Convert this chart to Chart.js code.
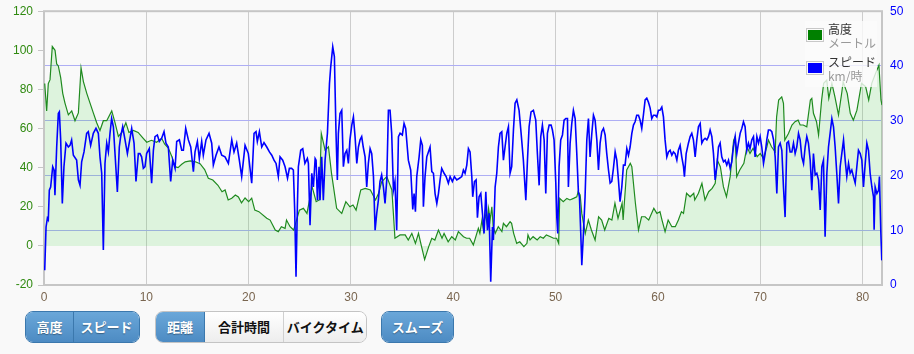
<!DOCTYPE html>
<html>
<head>
<meta charset="utf-8">
<script src="https://cdn.jsdelivr.net/npm/chart.js@4"></script>
<style>
  html, body { margin: 0; padding: 0; background: #f9f9f9; width: 914px; height: 354px; overflow: hidden; }
  #wrap { position: absolute; left: 0; top: -4px; width: 914px; height: 314px; }
  .legend { position: absolute; left: 805px; top: 21px; width: 72px; height: 66px; background: rgba(251,251,251,0.8); font-family: "Noto Sans CJK JP", sans-serif; font-size: 12px; }
  .sw { position: absolute; left: 1px; width: 14px; height: 10px; border: 1px solid #c8c8c8; padding: 1px; background-clip: content-box; }
  .lt { position: absolute; left: 23px; white-space: nowrap; line-height: 13px; }
  .grp { position: absolute; top: 311px; height: 30px; display: flex; border-radius: 8px; overflow: hidden; border: 1px solid #3b78ad; font-family: "Noto Sans CJK JP", sans-serif; font-weight: bold; font-size: 13px; }
  .grp.light { border-color: #c4c4c4; }
  .btn { line-height: 30px; text-align: center; color: #fff; background: linear-gradient(#6aa7d9, #4d8bc3); text-shadow: 0 1px 1px rgba(0,0,0,0.35); }
  .btn + .btn { border-left: 1px solid #3b78ad; }
  .btn.off { color: #111; background: linear-gradient(#ffffff, #ededed); text-shadow: none; border-left: 1px solid #d0d0d0; }
</style>
</head>
<body>
<div id="wrap"><canvas id="chart" width="914" height="314"></canvas></div>

<div class="legend">
  <div class="sw" style="top:7px; background-color:#008000;"></div>
  <div class="lt" style="top:1px; color:#333;">高度</div>
  <div class="lt" style="top:15px; color:#999;">メートル</div>
  <div class="sw" style="top:40px; background-color:#0000ff;"></div>
  <div class="lt" style="top:34px; color:#333;">スピード</div>
  <div class="lt" style="top:48px; color:#999;">km/時</div>
</div>

<div class="grp" style="left:25px; width:113px;">
  <div class="btn" style="width:47px;">高度</div>
  <div class="btn" style="width:65px;">スピード</div>
</div>
<div class="grp light" style="left:155px; width:210px;">
  <div class="btn" style="width:48px; border-right:1px solid #3b78ad;">距離</div>
  <div class="btn off" style="width:79px; border-left:none;">合計時間</div>
  <div class="btn off" style="width:82px;">バイクタイム</div>
</div>
<div class="grp" style="left:381px; width:71px;">
  <div class="btn" style="width:71px;">スムーズ</div>
</div>

<script>
// distance (km) and altitude (m)
const altDist = [0.07,0.26,0.42,0.59,0.81,1.08,1.24,1.4,1.63,1.83,2.05,2.38,2.71,3.03,3.36,3.62,3.85,4.18,4.5,4.82,5.15,5.47,5.8,6.13,6.62,6.94,7.27,7.6,8.0,8.3,8.73,9.2,9.7,10.04,10.5,11.0,11.5,11.8,12.15,12.5,12.8,13.1,13.46,13.8,14.3,14.8,15.25,15.7,16.06,16.5,17.0,17.4,17.7,18.0,18.35,18.7,19.0,19.3,19.65,20.0,20.3,20.6,21.0,
  21.77,22.1,22.6,22.9,23.2,23.56,23.7,24.05,24.4,24.96,25.35,25.7,26.2,26.6,26.9,27.1,27.47,27.8,28.1,28.6,29.1,29.5,29.9,30.2,30.5,30.96,31.4,31.9,32.4,32.7,33.0,33.5,34.0,34.3,34.8,35.3,35.6,35.95,36.3,36.6,36.9,37.2,37.6,37.9,38.2,38.55,38.9,39.1,39.5,39.85,40.2,40.5,
  40.67,41.0,41.3,41.6,41.96,42.3,42.45,42.6,42.8,42.95,43.1,43.3,43.45,43.6,43.77,43.9,44.1,44.4,44.75,44.9,45.2,45.55,45.7,45.9,46.2,46.5,46.9,47.2,47.3,47.5,47.8,48.2,48.5,48.8,49.1,49.5,49.8,50.1,50.3,50.4,50.75,51.1,51.4,51.75,52.07,52.2,52.4,52.56,52.9,53.2,53.5,53.86,54.2,54.5,54.8,55.2,55.5,55.8,56.1,56.5,56.6,56.95,57.3,57.45,57.8,58.1,58.4,58.75,59.1,59.6,59.9,
  60.2,60.4,60.7,61.0,61.36,61.7,62.0,62.3,62.5,62.8,63.15,63.5,63.6,63.96,64.3,64.6,64.96,65.3,65.6,65.8,66.1,66.4,66.7,67.06,67.4,67.55,67.7,68.0,68.4,68.7,69.0,69.3,69.7,70.0,70.3,70.65,70.8,71.1,71.46,71.6,71.8,72.1,72.27,72.4,72.76,73.1,73.4,73.7,73.9,74.2,74.55,74.9,75.04,75.2,75.5,75.7,76.0,76.2,76.5,76.7,77.0,77.3,77.65,77.98,78.1,78.5,78.8,79.1,79.45,79.9,80.3,80.6,80.9,81.27,81.6,81.8,81.9];
const altitude = [83,69,83,85,102,100,93,92,86,78,73,67,69,64,68,91,84,78,73,68,63,59,64,64,69,63,56,58,63,58,59,58,55,53,54,53,55,52,50,45.6,40.5,40,41.7,43,43.5,43,42,39,34.6,33.7,31,27.7,28.6,23.5,24.4,26,25,22,24.5,22.6,24.4,18.3,17.5,
  14.1,13.2,8.1,7.3,9.8,9.0,13.2,9.8,8.1,18.3,19.2,16.6,30.3,22.6,23.5,57.5,49,50.7,37.1,19.2,16.6,22.6,20,20.9,18.3,28.6,29.4,28.6,23.5,26.9,32.8,35.4,28.6,3.9,5.6,5.6,3,6.4,1.3,6.4,-0.4,-7,-0.4,3.9,3,8.1,3.9,6.4,2.1,4.7,3,7.3,
  6.4,4.7,3.9,3.9,0.5,6.4,9,6.4,13.2,8.1,16.6,11.5,19.2,13.2,20,9.8,6.4,9.8,7.3,11.5,9.8,12.4,11.5,6.4,1.3,2.1,-0.4,1.3,5.6,3,4.7,3,4.7,3.9,5.6,4.7,3.9,3.9,1.3,24.3,22.6,24.3,23.5,24.3,25.1,27.7,26,16.6,6.4,13.2,8.1,3,14.9,13.2,8.1,14.1,13.2,21.8,14.1,21.8,13.2,38.8,42.2,40.5,21.8,8.1,14.9,14.9,13.2,19.2,16.6,
  17.5,13.2,7.3,13.2,9.8,9.8,13.2,17.5,16.6,26.9,25.1,26.9,23.5,26.9,32,23.5,27.7,29.4,32,43.9,40.5,30.3,25.1,35.4,54.1,55.8,35.4,38.8,42.2,50.7,47.3,49.9,45.6,47.3,44.8,50.7,54.1,50.7,48.1,66,74.6,76.2,72.9,54.1,57.5,61.8,63.5,64.3,61.8,61.8,60.9,74.6,75.4,67.8,63.5,56.7,74.6,83.1,84.8,75.4,83.1,76.2,66.9,78.8,83.9,78,67.8,64.3,69.4,83.1,81.4,74.6,83.1,88.2,92.4,74.6,72];

// distance (km) and speed (km/h)
const speedDist = [0.07,0.2,0.33,0.42,0.52,0.65,0.85,0.98,1.07,1.24,1.4,1.5,1.63,1.79,1.95,2.15,2.38,2.54,2.7,2.87,3.19,3.36,3.52,3.68,3.91,4.17,4.33,4.56,4.82,5.08,5.31,5.47,5.64,5.8,5.96,6.13,6.29,6.45,6.61,6.78,6.94,7.17,7.36,7.49,7.69,7.92,8.15,8.41,8.57,8.8,8.99,9.22,9.38,9.54,9.71,9.87,10.03,10.29,10.52,10.69,10.85,11.08,11.27,11.5,11.73,11.92,12.15,12.38,12.58,12.81,12.97,13.23,13.46,13.62,13.85,14.11,14.34,14.6,14.76,14.99,15.18,15.41,15.57,15.83,16.13,16.39,16.55,16.81,17.1,17.37,17.69,18.02,18.35,18.57,18.83,19.09,19.32,19.65,19.97,20.3,20.53,20.72,20.85,21.05,
  21.28,21.5,21.77,22.03,22.26,22.48,22.68,22.9,23.07,23.33,23.56,23.8,23.98,24.2,24.37,24.5,24.63,24.76,24.86,25.09,25.29,25.5,25.74,25.84,26.0,26.17,26.33,26.5,26.59,26.72,26.88,26.98,27.14,27.3,27.47,27.7,27.9,28.02,28.22,28.38,28.54,28.67,28.77,28.93,29.1,29.26,29.42,29.59,29.75,29.9,30.08,30.24,30.4,30.57,30.73,30.89,31.05,31.2,31.38,31.54,31.7,31.87,32.03,32.2,32.36,32.52,32.68,32.84,33.0,33.17,33.33,33.5,33.66,33.82,33.98,34.15,34.3,34.47,34.64,34.8,35.02,35.19,35.35,35.61,35.84,36.04,36.17,36.3,36.43,36.66,36.82,36.98,37.08,37.24,37.41,37.57,37.73,37.9,38.06,38.22,38.39,38.55,38.71,38.87,39.1,39.3,39.52,39.69,39.91,40.11,40.34,40.6,
  40.83,40.99,41.15,41.32,41.48,41.64,41.81,41.9,42.07,42.23,42.36,42.52,42.69,42.85,43.01,43.18,43.34,43.5,43.66,43.83,43.92,44.09,44.25,44.41,44.57,44.74,44.9,45.06,45.23,45.39,45.55,45.71,45.88,46.04,46.21,46.43,46.63,46.85,47.09,47.25,47.41,47.6,47.83,48.06,48.22,48.39,48.55,48.71,48.88,49.04,49.2,49.37,49.56,49.69,49.85,50.02,50.12,50.21,50.34,50.5,50.67,50.83,51.0,51.16,51.25,51.42,51.58,51.74,51.91,52.07,52.23,52.33,52.46,52.56,52.72,52.88,53.05,53.21,53.37,53.54,53.7,53.86,54.03,54.19,54.35,54.51,54.68,54.84,55.0,55.17,55.33,55.49,55.65,55.82,55.98,56.14,56.3,56.47,56.63,56.79,56.96,57.12,57.28,57.45,57.61,57.77,57.93,58.1,58.26,58.42,58.58,58.75,58.91,59.07,59.24,59.4,59.56,59.73,59.89,60.05,
  60.2,60.38,60.54,60.7,60.87,61.03,61.19,61.36,61.52,61.68,61.85,62.0,62.17,62.33,62.5,62.59,62.76,62.98,63.15,63.31,63.47,63.64,63.8,63.96,64.13,64.29,64.45,64.61,64.78,64.94,65.1,65.27,65.43,65.59,65.76,65.92,66.08,66.24,66.41,66.57,66.73,66.9,67.06,67.22,67.38,67.55,67.71,67.87,68.04,68.2,68.36,68.52,68.69,68.85,69.0,69.18,69.34,69.5,69.67,69.83,69.99,70.15,70.32,70.48,70.64,70.8,70.97,71.13,71.3,71.46,71.62,71.78,71.95,72.11,72.27,72.43,72.6,72.76,72.92,73.09,73.25,73.41,73.57,73.74,73.9,74.06,74.23,74.39,74.55,74.71,74.88,75.04,75.2,75.37,75.53,75.69,75.86,76.02,76.18,76.34,76.51,76.67,76.83,77.0,77.16,77.32,77.48,77.65,77.81,77.97,78.14,78.3,78.46,78.63,78.79,78.95,79.11,79.28,79.44,79.6,79.77,79.93,80.09,80.26,80.42,80.58,80.74,80.91,81.07,81.13,81.23,81.4,81.56,81.65,81.79,81.88];
const speed = [2.7,10.6,12.2,11.9,17.3,17.9,21.6,21.0,16.4,25.2,31.3,31.6,26.5,14.9,21.6,25.9,25.2,25.5,26.5,23.7,22.8,19.2,18.2,22.5,24.3,27.7,28,25.5,27.7,28.6,27.7,23.4,20.4,6.4,22.2,25.9,24.3,27.7,30.4,28.9,24,17,25.2,27.1,28.9,26.5,24,26.8,28.6,25.9,18.9,24,24,23.4,21.3,21.6,24,24.9,18.6,24.6,27.1,27.4,26.2,26.8,28,25.9,25.2,18.9,22.8,21.3,26.2,26.5,24.6,24.6,28.6,26.5,25.2,20.7,24.3,26.2,23.1,26.2,23.7,26.5,27.7,25.9,21.9,23.7,25.2,23.7,23.4,22.2,26.5,24.3,25.9,22.8,19.8,25.5,24,18.6,27.7,28,26.2,28,
  25.2,26,25.2,24.3,23.7,22.8,22.2,19.8,23.4,22.8,21.6,19.5,21.3,21.3,21.0,13.8,1.5,14.1,21.6,24.6,24.9,22.2,23.1,22.2,10.9,20.4,17.9,23.1,22.8,15.5,21.6,15.5,23.4,15.5,22.8,27.7,36.8,39.8,43.5,41.7,27.7,19.2,27.7,31.3,31.9,21.6,24,24.6,22.2,26.5,29.2,30.7,27.1,22.2,25.2,26.5,27.1,25.2,23.4,17.9,22.2,24.9,24,19.8,10,13.1,15.5,18.9,20.1,17.9,14.9,19.2,31.9,31.9,27.7,17.3,18.9,10,27.1,27.7,27.4,29.5,28.6,22.8,21,13.8,16.7,13.4,19.8,23.4,26.5,25.5,14.3,19.8,23.4,24.3,25.2,20.7,20.4,16.7,14.9,16.7,19.2,21.3,20.4,19.8,18.6,19.8,18.9,19.8,19.2,19.5,
  19.8,21,20.4,21.9,24.9,24.3,19.8,16.1,18.9,19.2,12.3,16.1,16.7,13.1,9.4,17,10,13.1,0.6,10.6,8.2,17.9,20.4,25.2,27.7,28,22.8,25.2,27.7,28.9,20.4,21.6,28.3,33.2,33.8,31.9,27.7,22.8,15.5,22.8,28.9,31.6,31.9,30.1,24,18.2,27.1,29.2,26.5,16.7,27.7,29.2,29.2,28.3,26.5,18.6,12.3,9.4,21.6,26.5,27.4,30.1,30.4,30.4,17.9,25.9,29.5,31.9,30.4,24,17,16.1,9.4,3.6,9.4,16.1,26.5,30.4,23.4,27.7,31,30.1,26.5,21,25.9,28,28.6,27.4,24,21,18.6,18.9,21.3,24.3,22.8,19.2,15.2,17.9,21.9,21.9,24.9,23.7,25.2,27.7,29.2,29.8,31,31,30.1,28.6,31,33.8,34.1,33.4,32.3,30.4,31,31,30.7,31.9,
  31.9,32.5,30.7,26.5,23.4,24.3,24.6,23.7,24.3,24,22.8,24.6,25.5,23.4,21.6,19.8,24,25.9,27.1,27.7,26.5,23.4,26.5,28.9,29.5,25.9,26.5,26.8,26.5,27.1,28.3,27.1,24,19.2,21.6,25.2,25.9,23.4,22.5,22.8,21.9,22.8,21.3,22.5,25.2,27.1,24,25.9,27.7,28.6,29.8,28.9,24.6,25.9,24.9,26.5,27.1,23.4,27.1,25.9,27.1,25.2,22.2,24,26.5,28.3,28.3,28,26.5,23.4,16.7,25.2,25.9,24.6,17.9,12.4,25.9,26.2,24.3,24.3,25.9,24,25.2,27.7,26.5,23.4,22.2,25.2,27.1,25.9,22.8,17.3,24,20.1,20.4,19.2,13.7,21.6,22.8,8.8,20.4,25.2,27.7,30.4,28.9,25.2,20.4,14.9,21.6,24,26.5,22.8,19.8,22.2,20.4,21,19.8,18.6,21.6,24.6,24,22.8,17.9,22.2,25.9,24.6,20.4,17.9,16.1,10.1,17.9,16.7,17.3,19.8,9.4,4.5];

const distTicks = [0, 10, 20, 30, 40, 50, 60, 70, 80];

function pts(xs, ys) {
  return xs.map((x, i) => ({ x: x, y: ys[i] }));
}

// gray frame round the plot area
const framePlugin = {
  id: 'frame',
  beforeDatasetsDraw(chart) {
    const a = chart.chartArea, ctx = chart.ctx;
    ctx.save();
    ctx.strokeStyle = '#c6c6c6';
    ctx.lineWidth = 2;
    ctx.strokeRect(a.left, a.top, a.right - a.left, a.bottom - a.top);
    ctx.restore();
  }
};

const tickFont = { family: 'Liberation Sans, Arial, sans-serif', size: 12 };

new Chart(document.getElementById('chart'), {
  type: 'line',
  data: {
    datasets: [
      {
        label: 'スピード',
        data: pts(speedDist, speed),
        yAxisID: 'y2',
        borderColor: '#0000ff',
        borderWidth: 1.6,
        pointRadius: 0,
        fill: false,
        order: 0
      },
      {
        label: '高度',
        data: pts(altDist, altitude),
        yAxisID: 'y',
        borderColor: '#1f8a1f',
        borderWidth: 1.2,
        backgroundColor: 'rgba(40,210,40,0.13)',
        pointRadius: 0,
        fill: { target: { value: 0 } },
        order: 1
      }
    ]
  },
  options: {
    responsive: false,
    animation: false,
    layout: { padding: { top: 7, left: 0, right: 0, bottom: 0 } },
    plugins: { legend: { display: false }, tooltip: { enabled: false } },
    scales: {
      x: {
        type: 'linear',
        min: 0,
        max: 81.9,
        afterBuildTicks: s => { s.ticks = distTicks.map(v => ({ value: v })); },
        afterFit: s => { s.height = 25; },
        ticks: { color: '#7a6650', font: tickFont, padding: 5, includeBounds: false },
        grid: { color: '#cdcdcd', drawTicks: false },
        border: { display: false }
      },
      y: {
        position: 'left',
        min: -20,
        max: 120,
        afterFit: s => { s.width = 44; },
        ticks: { stepSize: 20, color: '#2f8a10', font: tickFont, padding: 5 },
        grid: { drawOnChartArea: false, drawTicks: true, tickLength: 6, color: '#c6c6c6' },
        border: { display: false }
      },
      y2: {
        position: 'right',
        min: 0,
        max: 50,
        afterFit: s => { s.width = 32; },
        ticks: { stepSize: 10, color: '#0000ff', font: tickFont, padding: 8 },
        grid: { color: '#aeaef4', drawTicks: false },
        border: { display: false }
      }
    }
  },
  plugins: [framePlugin]
});
</script>
</body>
</html>
